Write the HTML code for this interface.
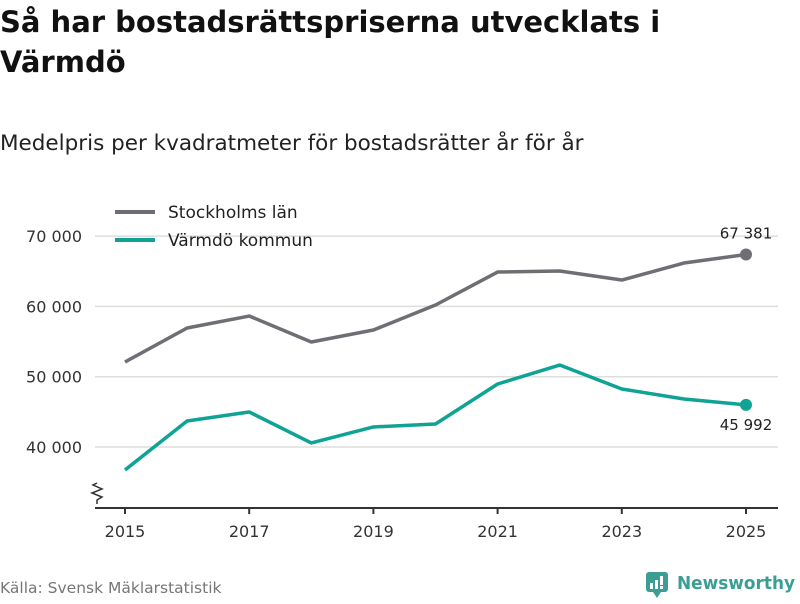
<!DOCTYPE html>
<html><head><meta charset="utf-8"><style>
body{margin:0;width:800px;height:600px;background:#fff;font-family:"DejaVu Sans","Liberation Sans",sans-serif;overflow:hidden;position:relative;color:#111}
#title{position:absolute;left:0;top:2px;font-size:29px;font-weight:bold;line-height:40px;margin:0;width:700px}
#sub{position:absolute;left:0;top:131px;font-size:21.5px;color:#222}
#src{position:absolute;left:0;top:579px;font-size:15.5px;color:#777}
#logo{position:absolute;left:644px;top:570px}
svg text{font-family:"DejaVu Sans","Liberation Sans",sans-serif}
</style></head><body>
<h1 id="title">Så har bostadsrättspriserna utvecklats i Värmdö</h1>
<div id="sub">Medelpris per kvadratmeter för bostadsrätter år för år</div>
<svg id="chart" width="800" height="600" style="position:absolute;left:0;top:0"></svg>
<div id="src">Källa: Svensk Mäklarstatistik</div>
<div id="logo">
<svg width="156" height="30"><rect x="2" y="2" width="22" height="20" rx="3" fill="#3a9e94"/><polygon points="9,22 17,22 13,28" fill="#3a9e94"/><rect x="6" y="13" width="3" height="6" fill="#fff"/><rect x="11" y="10" width="3" height="9" fill="#fff"/><rect x="16" y="6" width="3" height="9" fill="#fff"/><rect x="16" y="16" width="3" height="3" fill="#fff"/><text x="33" y="19" font-size="18" fill="#3a9e94" font-weight="bold" textLength="118" lengthAdjust="spacingAndGlyphs">Newsworthy</text></svg>
</div>
<script>
const years=[2015,2016,2017,2018,2019,2020,2021,2022,2023,2024,2025];
const sthlm=[52090,56930,58630,54940,56640,60200,64890,65030,63750,66170,67381];
const varmdo=[36730,43700,44980,40570,42850,43270,48960,51660,48250,46830,45992];
const yTicks=[40000,50000,60000,70000];
const xTicks=[2015,2017,2019,2021,2023,2025];
const NS='http://www.w3.org/2000/svg';
const svg=document.getElementById('chart');
const X=y=>125+(y-2015)*62.1;
const Y=v=>447-(v-40000)*0.00703;
function mk(t,a,p){const e=document.createElementNS(NS,t);for(const k in a)e.setAttribute(k,a[k]);(p||svg).appendChild(e);return e;}
const fmt=v=>String(v).replace(/\B(?=(\d{3})+(?!\d))/g,' ');
yTicks.forEach(v=>{
 const g=mk('line',{x1:95,x2:778,y1:Y(v),y2:Y(v),stroke:'#ddd','stroke-width':1.5});
 
 
 const t=mk('text',{x:82,y:Y(v)+6,'text-anchor':'end','font-size':16,fill:'#333'});
 t.textContent=fmt(v);
 
 
});
const ax=mk('line',{x1:95,x2:778,y1:508,y2:508,stroke:'#333','stroke-width':2});


const zz=mk('polyline',{points:'97,504 97,500 102,497 92,493 102,489 93,485 97,483',fill:'none',stroke:'#333','stroke-width':1.5});


xTicks.forEach(y=>{
 const tk=mk('line',{x1:X(y),x2:X(y),y1:508,y2:514,stroke:'#333','stroke-width':2});
 
 
 const t=mk('text',{x:X(y),y:537,'text-anchor':'middle','font-size':16,fill:'#333'});
 t.textContent=y;
 
 
});
function series(vals,color,name,labelDy){
 const p=mk('polyline',{points:vals.map((v,i)=>X(years[i])+','+Y(v)).join(' '),fill:'none',stroke:color,'stroke-width':3.5,'stroke-linejoin':'round'});
 
 
 const n=vals.length-1;
 const c=mk('circle',{cx:X(years[n]),cy:Y(vals[n]),r:6,fill:color});
 
 
 const t=mk('text',{x:X(years[n]),y:Y(vals[n])+labelDy,'text-anchor':'middle','font-size':15,fill:'#222'});
 t.textContent=fmt(vals[n]);
 
 
}
series(sthlm,'#6f6e75','stockholm',-16);
series(varmdo,'#0fa396','varmdo',25);
[['Stockholms län','#6f6e75',212],['Värmdö kommun','#0fa396',240]].forEach(([l,c,y])=>{
 const ln=mk('line',{x1:115,x2:155,y1:y,y2:y,stroke:c,'stroke-width':4});
 
 
 const t=mk('text',{x:168,y:y+6,'font-size':17,fill:'#222'});
 t.textContent=l;
 
 
});
</script>
</body></html>
